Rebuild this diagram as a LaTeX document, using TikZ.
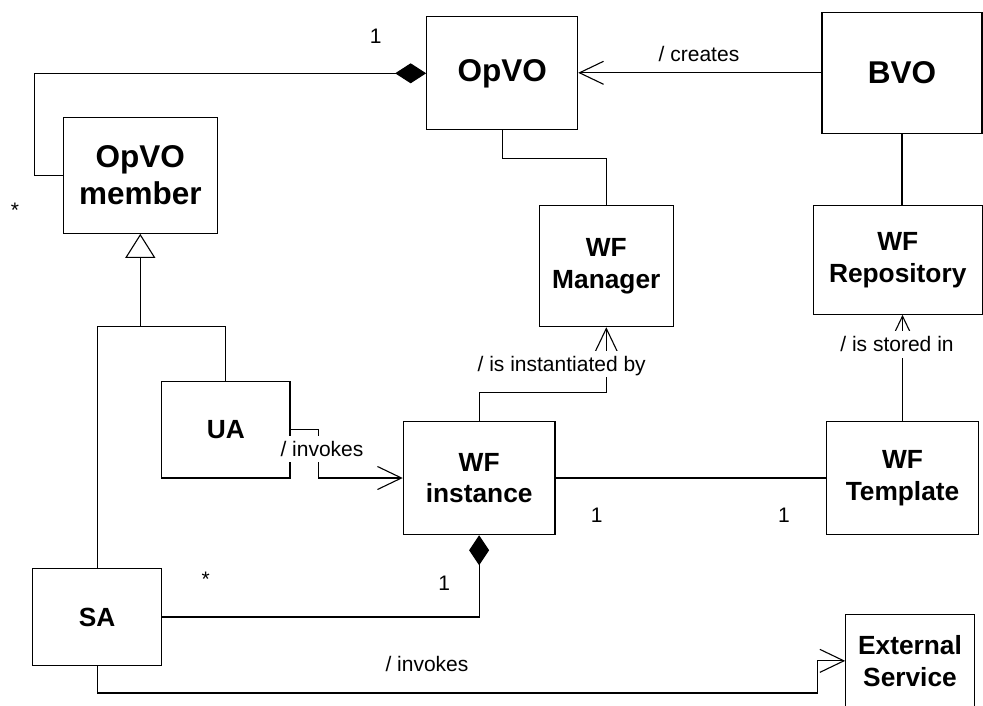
\documentclass[tikz,border=0pt]{standalone}
\usepackage{fontspec}
\setmainfont{Liberation Sans}
\usetikzlibrary{arrows.meta,calc}
\begin{document}
\begin{tikzpicture}[x=1pt,y=-1pt,
  line width=1.1pt,
  box/.style={draw, rectangle, inner sep=0pt, align=center, font=\bfseries\fontsize{26.3}{31.7}\selectfont},
  bigbox/.style={box, font=\bfseries\fontsize{31.5}{36.7}\selectfont},
  lbl/.style={inner sep=0pt, text height=19pt, text depth=4.5pt, font=\fontsize{21}{25}\selectfont},
  wlbl/.style={lbl, fill=white, inner xsep=1pt, inner ysep=1.5pt},
  opena/.style={-{Straight Barb[length=24pt,width=23pt]}},
  comp/.style={-{Diamond[length=31pt,width=20pt]}},
  gen/.style={-{Triangle[open,length=24pt,width=30pt]}}
]
\useasboundingbox (0,0) rectangle (983,706);

% classes
\node[bigbox, minimum width=151pt, minimum height=113.3pt] (opvo) at (502.2,73.3) {OpVO};
\node[bigbox, minimum width=160pt, minimum height=121pt] (bvo) at (902,72.8) {BVO};
\node[bigbox, minimum width=154pt, minimum height=115.6pt] (member) at (140.3,175.5) {OpVO\\member};
\node[box, minimum width=134pt, minimum height=121pt] (mgr) at (606.3,266.2) {WF\\Manager};
\node[box, minimum width=168.7pt, minimum height=108.6pt] (repo) at (897.7,260) {WF\\Repository};
\node[box, minimum width=128.3pt, minimum height=96.3pt] (ua) at (225.85,429.85) {UA};
\node[box, minimum width=151.7pt, minimum height=113.4pt] (inst) at (479.15,478) {WF\\instance};
\node[box, minimum width=151.6pt, minimum height=113.4pt] (tmpl) at (902.5,478) {WF\\Template};
\node[box, minimum width=129pt, minimum height=96.6pt] (sa) at (97.2,617) {SA};
\node[box, minimum width=128.6pt, minimum height=92.3pt] (ext) at (910,660.85) {External\\Service};

% connectors
\draw[comp] (member.west) -- ++(-28.3,0) |- (opvo.west);
\draw[opena] (bvo.west) -- (bvo.west -| opvo.east);
\draw (opvo.south) -- ++(0,28.3) -| (mgr.north);
\draw (bvo.south) -- (bvo.south |- repo.north);
\draw[opena] (tmpl.north) -- (tmpl.north |- repo.south);
\draw[opena] (inst.north) -- ++(0,-28.3) -| (mgr.south);
\coordinate (gj) at (140.3,326.7);
\draw[gen] (gj) -- (member.south);
\draw (sa.north) |- (gj) -| (ua.north);
\draw[opena] (ua.east) -- ++(28.3,0) |- (inst.west);
\draw (inst.east) -- (tmpl.west);
\draw[-{Diamond[length=30pt,width=20pt]}] (sa.east) -| (inst.south);
\coordinate (eb) at (817.3,693);
\draw[opena] (sa.south) |- (eb) |- (ext.west);

% labels
\node[lbl] (lcreates) at (699,54.4) {/ creates};
\node[wlbl] (linst) at (561.7,364) {/ is instantiated by};
\node[wlbl] (lstored) at (897,344.4) {/ is stored in};
\node[wlbl] (linv1) at (322,449) {/ invokes};
\node[lbl] (linv2) at (427,664) {/ invokes};

% multiplicities
\node[lbl] (m1) at (375.8,36) {1};
\node[lbl] (m2) at (15,210.5) {*};
\node[lbl] (m3) at (596.7,515) {1};
\node[lbl] (m4) at (784,515) {1};
\node[lbl] (m5) at (205.7,579) {*};
\node[lbl] (m6) at (444.3,583) {1};
\end{tikzpicture}
\end{document}
